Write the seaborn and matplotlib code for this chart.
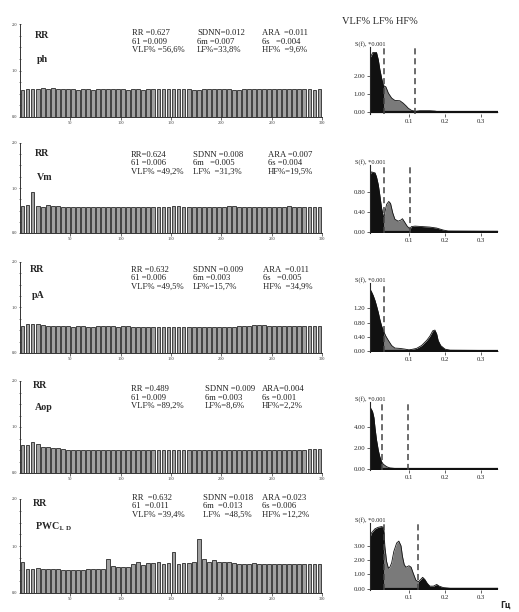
import numpy as np
import matplotlib
matplotlib.use("Agg")
import matplotlib.pyplot as plt
from matplotlib.ticker import MultipleLocator
import seaborn as sns

# --- данные: ряды RR (по 5 ударов на столбик) ---
BEATS = np.arange(2.5, 300, 5)

RR_PH = [0.59, 0.60, 0.60, 0.61, 0.62, 0.61, 0.62, 0.61, 0.61, 0.61,
         0.60, 0.59, 0.61, 0.60, 0.59, 0.60, 0.60, 0.61, 0.61, 0.60,
         0.60, 0.59, 0.60, 0.60, 0.59, 0.60, 0.60, 0.60, 0.61, 0.60,
         0.60, 0.60, 0.60, 0.60, 0.59, 0.59, 0.60, 0.60, 0.60, 0.60,
         0.60, 0.60, 0.59, 0.59, 0.60, 0.60, 0.61, 0.60, 0.60, 0.61,
         0.60, 0.61, 0.61, 0.60, 0.60, 0.61, 0.60, 0.60, 0.59, 0.60]
RR_VM = [0.60, 0.62, 0.92, 0.61, 0.58, 0.62, 0.61, 0.60, 0.58, 0.58,
         0.58, 0.57, 0.58, 0.58, 0.58, 0.57, 0.58, 0.58, 0.57, 0.58,
         0.58, 0.58, 0.57, 0.58, 0.58, 0.58, 0.57, 0.58, 0.58, 0.58,
         0.59, 0.59, 0.58, 0.58, 0.57, 0.58, 0.58, 0.58, 0.57, 0.58,
         0.58, 0.59, 0.59, 0.58, 0.58, 0.58, 0.57, 0.58, 0.58, 0.58,
         0.58, 0.58, 0.58, 0.59, 0.58, 0.58, 0.58, 0.57, 0.57, 0.57]
RR_PA = [0.60, 0.63, 0.64, 0.63, 0.61, 0.60, 0.60, 0.59, 0.60, 0.59,
         0.58, 0.59, 0.59, 0.58, 0.58, 0.59, 0.59, 0.59, 0.59, 0.58,
         0.59, 0.59, 0.58, 0.58, 0.58, 0.58, 0.58, 0.58, 0.58, 0.58,
         0.58, 0.58, 0.58, 0.58, 0.58, 0.58, 0.58, 0.58, 0.58, 0.58,
         0.58, 0.58, 0.58, 0.59, 0.59, 0.60, 0.61, 0.62, 0.61, 0.59,
         0.59, 0.59, 0.60, 0.60, 0.59, 0.59, 0.59, 0.59, 0.59, 0.59]
RR_AOP = [0.61, 0.61, 0.67, 0.62, 0.56, 0.56, 0.55, 0.54, 0.52, 0.51,
          0.51, 0.51, 0.51, 0.50, 0.51, 0.51, 0.51, 0.51, 0.51, 0.51,
          0.51, 0.50, 0.50, 0.50, 0.50, 0.50, 0.50, 0.50, 0.50, 0.51,
          0.51, 0.51, 0.51, 0.50, 0.51, 0.51, 0.51, 0.51, 0.50, 0.50,
          0.51, 0.51, 0.51, 0.51, 0.51, 0.51, 0.50, 0.50, 0.50, 0.50,
          0.50, 0.50, 0.50, 0.50, 0.50, 0.51, 0.51, 0.52, 0.53, 0.53]
RR_PWC = [0.65, 0.52, 0.52, 0.53, 0.52, 0.51, 0.52, 0.51, 0.50, 0.49,
          0.49, 0.50, 0.50, 0.51, 0.51, 0.51, 0.52, 0.73, 0.57, 0.56,
          0.56, 0.55, 0.62, 0.65, 0.60, 0.63, 0.64, 0.66, 0.62, 0.63,
          0.88, 0.62, 0.63, 0.64, 0.65, 1.15, 0.72, 0.66, 0.70, 0.67,
          0.66, 0.65, 0.63, 0.62, 0.62, 0.62, 0.63, 0.62, 0.62, 0.62,
          0.62, 0.61, 0.61, 0.62, 0.61, 0.61, 0.61, 0.61, 0.61, 0.61]

# --- данные: спектры S(f) ---
F_PH = [-0.008, 0.0, 0.010, 0.015, 0.019, 0.024, 0.029, 0.031, 0.036, 0.043,
        0.052, 0.061, 0.075, 0.084, 0.092, 0.098, 0.107, 0.118, 0.130, 0.158,
        0.172, 0.180, 0.200, 0.250, 0.300, 0.347]
S_PH = [3.0, 3.3, 3.3, 2.9, 2.4, 1.9, 1.5, 1.45, 1.4, 1.05,
        0.78, 0.65, 0.63, 0.5, 0.35, 0.22, 0.1, 0.05, 0.08, 0.08,
        0.06, 0.03, 0.02, 0.02, 0.02, 0.02]
F_VM = [-0.008, -0.004, 0.006, 0.010, 0.015, 0.019, 0.024, 0.029, 0.031, 0.033,
        0.038, 0.044, 0.049, 0.055, 0.061, 0.070, 0.077, 0.082, 0.089, 0.095,
        0.103, 0.107, 0.117, 0.158, 0.177, 0.195, 0.209, 0.347]
S_VM = [1.15, 1.21, 1.19, 1.11, 0.95, 0.75, 0.48, 0.31, 0.28, 0.38,
        0.55, 0.61, 0.57, 0.38, 0.25, 0.21, 0.23, 0.26, 0.18, 0.11,
        0.05, 0.10, 0.11, 0.09, 0.07, 0.03, 0.01, 0.005]
F_PA = [-0.008, -0.004, 0.001, 0.006, 0.010, 0.015, 0.019, 0.024, 0.031, 0.036,
        0.043, 0.052, 0.061, 0.075, 0.089, 0.100, 0.107, 0.121, 0.135, 0.149,
        0.158, 0.166, 0.172, 0.177, 0.181, 0.188, 0.200, 0.214, 0.347]
S_PA = [1.73, 1.66, 1.55, 1.41, 1.27, 1.08, 0.90, 0.71, 0.53, 0.42,
        0.30, 0.16, 0.09, 0.08, 0.06, 0.04, 0.05, 0.08, 0.16, 0.30,
        0.42, 0.57, 0.59, 0.48, 0.30, 0.16, 0.06, 0.03, 0.02]
F_AOP = [-0.008, -0.006, -0.001, 0.003, 0.006, 0.010, 0.015, 0.019, 0.024, 0.029,
         0.038, 0.047, 0.066, 0.098, 0.347]
S_AOP = [6.0, 5.8, 5.5, 4.9, 3.9, 2.8, 1.8, 1.2, 0.7, 0.45,
         0.22, 0.10, 0.03, 0.03, 0.02]
F_PWC = [-0.008, -0.004, 0.006, 0.015, 0.024, 0.029, 0.031, 0.033, 0.038, 0.043,
         0.047, 0.052, 0.058, 0.066, 0.072, 0.078, 0.082, 0.087, 0.092, 0.100,
         0.106, 0.112, 0.119, 0.126, 0.131, 0.138, 0.144, 0.151, 0.158, 0.168,
         0.177, 0.184, 0.195, 0.214, 0.347]
S_PWC = [3.6, 3.9, 4.2, 4.3, 4.35, 4.3, 3.9, 3.0, 1.9, 1.43,
         1.5, 1.8, 2.6, 3.2, 3.33, 3.0, 2.26, 1.67, 1.5, 1.6,
         1.5, 1.07, 0.6, 0.48, 0.6, 0.79, 0.64, 0.36, 0.17, 0.17,
         0.29, 0.17, 0.07, 0.02, 0.02]

# границы VLF/LF/HF и видимые штриховые линии
BOUNDS = [(0.031, 0.118), (0.031, 0.103), (0.031, 0.100), (0.024, 0.098), (0.031, 0.126)]
DASHED = [[0.031, 0.118], [0.031, 0.103], [0.031], [0.024, 0.098], [0.031, 0.126]]
S_YTICKS = [[0, 1, 2], [0, 0.4, 0.8], [0, 0.4, 0.8, 1.2], [0, 2, 4], [0, 1, 2, 3]]
S_YLIM = [(-0.1, 3.6), (-0.03, 1.35), (-0.02, 1.9), (-0.1, 6.4), (-0.1, 4.6)]

NAMES = ["ph", "Vm", "pA", "Aop", r"PWC$_\mathregular{1.D}$"]
STATS = [
    [["RR =0.627", "61 =0.009", "VLF% =56,6%"],
     ["SDNN=0.012", "6m =0.007", "LF%=33,8%"],
     ["ARA  =0.011", "6s   =0.004", "HF%  =9,6%"]],
    [["RR=0.624", "61 =0.006", "VLF% =49,2%"],
     ["SDNN =0.008", "6m   =0.005", "LF%  =31,3%"],
     ["ARA =0.007", "6s =0.004", "HF%=19,5%"]],
    [["RR =0.632", "61 =0.006", "VLF% =49,5%"],
     ["SDNN =0.009", "6m =0.003", "LF%=15,7%"],
     ["ARA  =0.011", "6s   =0.005", "HF%  =34,9%"]],
    [["RR =0.489", "61 =0.009", "VLF% =89,2%"],
     ["SDNN =0.009", "6m =0.003", "LF%=8,6%"],
     ["ARA=0.004", "6s =0.001", "HF%=2,2%"]],
    [["RR  =0.632", "61  =0.011", "VLF% =39,4%"],
     ["SDNN =0.018", "6m  =0.013", "LF%  =48,5%"],
     ["ARA =0.023", "6s =0.006", "HF% =12,2%"]],
]

RR_SERIES = [RR_PH, RR_VM, RR_PA, RR_AOP, RR_PWC]
SPECTRA = [(F_PH, S_PH), (F_VM, S_VM), (F_PA, S_PA), (F_AOP, S_AOP), (F_PWC, S_PWC)]

# --- разметка в пикселях ---
W, H = 519, 612
LEFT_ROWS = [(24, 117), (143, 233), (262, 353), (381, 473), (499, 593)]
RIGHT_ROWS = [(47, 114), (165, 233), (283, 352), (402, 470), (523, 590)]
STAT_Y = [33, 155, 270, 389, 498]
STAT_X = [[132, 197, 262], [131, 193, 268], [131, 193, 263], [131, 205, 262], [132, 203, 262]]
LABEL_POS = [(35, 35, 59), (35, 153, 177), (30, 270, 295), (33, 385, 408), (33, 503, 527)]

sns.set_style("ticks")
plt.rcParams["font.family"] = ["Liberation Serif", "DejaVu Serif"]
plt.rcParams["mathtext.fontset"] = "custom"

fig = plt.figure(figsize=(W / 100, H / 100), dpi=100)


def px_axes(x0, x1, y0, y1):
    return fig.add_axes([x0 / W, 1 - y1 / H, (x1 - x0) / W, (y1 - y0) / H])


for i in range(5):
    # левая панель: ритмограмма
    ax = px_axes(20, 322, *LEFT_ROWS[i])
    sns.barplot(x=BEATS, y=RR_SERIES[i], native_scale=True, color="#a0a0a0",
                edgecolor="#2a2a2a", linewidth=0.6, width=0.75, ax=ax, saturation=1)
    ax.set_xlim(0, 300)
    ax.set_ylim(0, 2)
    ax.set_xticks([50, 100, 150, 200, 250, 300])
    ax.set_yticks([0, 1, 2])
    ax.set_yticklabels(["0.0", "1.0", "2.0"])
    ax.yaxis.set_minor_locator(MultipleLocator(0.25))
    ax.tick_params(axis="both", labelsize=3.2, length=2, width=0.5, pad=1, colors="#333333")
    ax.tick_params(axis="y", which="minor", length=1.2, width=0.4, direction="inout")
    ax.tick_params(axis="y", which="major", direction="inout")
    ax.set_xlabel("")
    ax.set_ylabel("")
    sns.despine(ax=ax)
    for s in ["left", "bottom"]:
        ax.spines[s].set_linewidth(0.7)
        ax.spines[s].set_color("#333333")

    lx, ly1, ly2 = LABEL_POS[i]
    fig.text(lx / W, 1 - ly1 / H, "RR", fontsize=7.2, fontweight="bold", va="center")
    fig.text(lx / W + 0.004, 1 - ly2 / H, NAMES[i], fontsize=7.2, fontweight="bold", va="center")
    for c in range(3):
        for r in range(3):
            fig.text(STAT_X[i][c] / W, 1 - (STAT_Y[i] + 8.5 * r) / H, STATS[i][c][r],
                     fontsize=6.2, va="center", color="#222222")

    # правая панель: спектр
    ax2 = px_axes(370, 498, *RIGHT_ROWS[i])
    f = np.array(SPECTRA[i][0])
    s = np.array(SPECTRA[i][1])
    b1, b2 = BOUNDS[i]
    ax2.fill_between(f, 0, s, where=f <= b1 + 1e-9, color="#111111", lw=0)
    ax2.fill_between(f, 0, s, where=(f >= b1 - 1e-9) & (f <= b2 + 1e-9), color="#7a7a7a", lw=0)
    ax2.fill_between(f, 0, s, where=f >= b2 - 1e-9, color="#111111", lw=0)
    sns.lineplot(x=f, y=s, color="#111111", lw=0.6, ax=ax2)
    ax2.axhline(0, color="#111111", lw=1.6)
    for d in DASHED[i]:
        ax2.axvline(d, color="#444444", lw=1.1, ls=(0, (4, 2.5)))
    ax2.set_xlim(-0.008, 0.347)
    ax2.set_ylim(*S_YLIM[i])
    ax2.set_xticks([0.1, 0.2, 0.3])
    ax2.set_xticklabels(["0.1", "0.2", "0.3"])
    ax2.set_yticks(S_YTICKS[i])
    ax2.set_yticklabels(["%.2f" % v for v in S_YTICKS[i]])
    ax2.tick_params(axis="both", labelsize=4.8, length=2, width=0.5, pad=1.5, colors="#222222")
    sns.despine(ax=ax2)
    ax2.spines["left"].set_linewidth(0.8)
    ax2.spines["bottom"].set_visible(False)
    ax2.text(0.0, 1.0, "S(f), *0.001", transform=ax2.transAxes, fontsize=4.6,
             ha="center", va="bottom")

fig.text(342 / W, 1 - 22 / H, "VLF% LF% HF%", fontsize=7.5, va="center")
fig.text(500 / W, 1 - 605 / H, "Гц", fontsize=5.5, fontweight="bold", va="center",
         family=["DejaVu Sans"])

fig.savefig("out.png", dpi=100)
